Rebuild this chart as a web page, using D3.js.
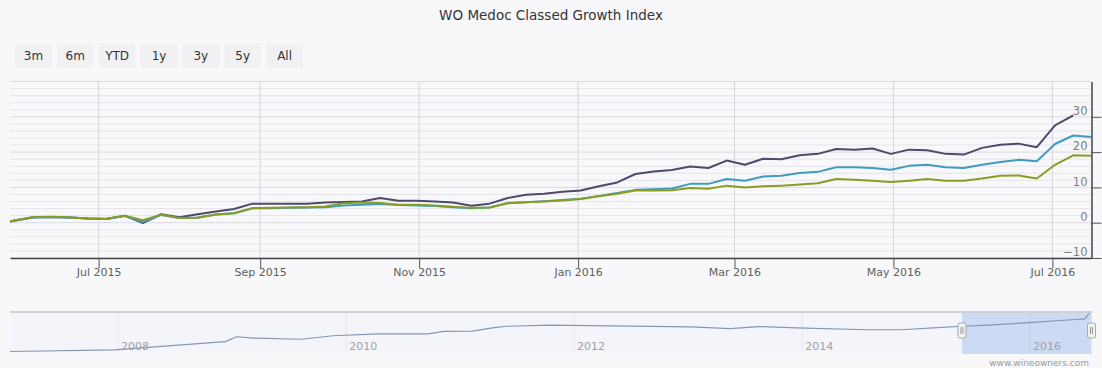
<!DOCTYPE html>
<html><head><meta charset="utf-8">
<script src="https://cdn.jsdelivr.net/npm/d3@7"></script>
<style>
html,body{margin:0;padding:0;background:#f8f8fb;}
svg{display:block;font-family:"DejaVu Sans",sans-serif;}
</style></head>
<body>
<svg id="c" width="1102" height="368"></svg>
<script>
const title = "WO Medoc Classed Growth Index";
const rangeButtons = ["3m","6m","YTD","1y","3y","5y","All"];
const dates = ["2015-05-23","2015-05-30","2015-06-06","2015-06-13","2015-06-20","2015-06-27","2015-07-04","2015-07-11","2015-07-18","2015-07-25","2015-08-01","2015-08-08","2015-08-15","2015-08-22","2015-08-29","2015-09-05","2015-09-12","2015-09-19","2015-09-26","2015-10-03","2015-10-10","2015-10-17","2015-10-24","2015-10-31","2015-11-07","2015-11-14","2015-11-21","2015-11-28","2015-12-05","2015-12-12","2015-12-19","2015-12-26","2016-01-02","2016-01-09","2016-01-16","2016-01-23","2016-01-30","2016-02-06","2016-02-13","2016-02-20","2016-02-27","2016-03-05","2016-03-12","2016-03-19","2016-03-26","2016-04-02","2016-04-09","2016-04-16","2016-04-23","2016-04-30","2016-05-07","2016-05-14","2016-05-21","2016-05-28","2016-06-04","2016-06-11","2016-06-18","2016-06-25","2016-07-02","2016-07-09","2016-07-16"];
const purpleValues = [-0.3,0.6,1.55,1.6,1.5,1.2,1.05,2.0,-0.1,2.4,1.55,2.4,3.2,3.9,5.4,5.4,5.4,5.4,5.75,5.85,6.0,7.0,6.2,6.2,6.0,5.75,4.8,5.4,7.0,7.9,8.2,8.8,9.1,10.3,11.4,13.8,14.5,14.9,15.9,15.5,17.6,16.4,18.1,18.0,19.1,19.5,20.9,20.7,21.0,19.5,20.7,20.5,19.5,19.3,21.2,22.1,22.4,21.4,27.6,30.4,null];
const blueValues = [-0.3,0.6,1.5,1.6,1.5,1.2,1.05,1.9,0.2,2.2,1.3,1.5,2.3,2.7,4.1,4.1,4.2,4.3,4.4,4.9,5.1,5.3,5.0,4.9,4.7,4.4,4.1,4.3,5.6,5.8,6.1,6.4,6.8,7.6,8.4,9.3,9.5,9.7,11.0,11.0,12.4,11.9,13.1,13.3,14.1,14.4,15.7,15.7,15.5,15.0,16.1,16.4,15.7,15.5,16.4,17.2,17.8,17.4,22.3,24.7,24.3];
const greenValues = [-0.3,0.7,1.6,1.7,1.5,1.2,1.1,2.0,0.7,2.3,1.3,1.4,2.3,2.7,4.1,4.2,4.3,4.4,4.6,5.5,5.7,5.6,5.1,5.1,4.9,4.5,4.2,4.3,5.5,5.8,6.0,6.3,6.7,7.5,8.2,9.1,9.1,9.2,9.8,9.6,10.5,10.0,10.3,10.5,10.8,11.2,12.4,12.2,11.9,11.5,11.9,12.4,11.9,11.9,12.5,13.3,13.4,12.5,16.4,19.1,19.0];
const monthTicks = ["2015-07-01","2015-09-01","2015-11-01","2016-01-01","2016-03-01","2016-05-01","2016-07-01"];
const monthLabels = ["Jul 2015","Sep 2015","Nov 2015","Jan 2016","Mar 2016","May 2016","Jul 2016"];
const yTicks = [-10,0,10,20,30];
const navDates = ["2007-01-20","2007-12-20","2008-12-10","2009-01-15","2009-03-10","2009-08-10","2009-11-20","2010-04-15","2010-09-20","2010-11-10","2011-02-10","2011-04-15","2011-05-30","2011-10-20","2012-04-20","2013-01-10","2013-05-15","2013-08-15","2013-12-15","2014-07-25","2014-11-15","2015-03-10","2015-05-28","2015-08-20","2016-01-10","2016-05-01","2016-06-25","2016-07-09"];
const navValues = [-58.4,-54.5,-35.6,-24.3,-27.5,-30.0,-21.9,-17.8,-17.8,-12.0,-11.3,-3.9,0,2.5,0.7,-1.6,-5.5,-0.7,-3.9,-8.1,-8.1,-3.2,0,2.5,9.0,14.5,17.1,30.7];
const navYearTicks = ["2008-01-01","2010-01-01","2012-01-01","2014-01-01","2016-01-01"];
const navYearLabels = ["2008","2010","2012","2014","2016"];
const credit = "www.wineowners.com";

const parse = d3.timeParse("%Y-%m-%d");
const D = dates.map(parse);
const svg = d3.select("#c");

// layout
const L = 10, R = 1091.5, T = 81.5, B = 258;
const x = d3.scaleTime().domain([parse("2015-05-28"), parse("2016-07-16")]).range([L, R]);
const y = d3.scaleLinear().domain([-10, 40]).range([B, T]);

// title
svg.append("text").attr("x", 551).attr("y", 20).attr("text-anchor", "middle")
  .style("font-size", "13.5px").style("fill", "#333").text(title);

// range buttons
const bx = d3.scaleBand().domain(rangeButtons).range([15, 303]).paddingInner(0.12);
const bg = svg.append("g");
bg.selectAll("rect").data(rangeButtons).join("rect")
  .attr("x", d => bx(d)).attr("y", 43).attr("width", bx.bandwidth()).attr("height", 25)
  .attr("fill", "#f1f1f4");
bg.selectAll("text").data(rangeButtons).join("text")
  .attr("x", d => bx(d) + bx.bandwidth()/2).attr("y", 59.5).attr("text-anchor", "middle")
  .style("font-size", "12px").style("fill", "#333").text(d => d);

// gridlines
const grid = svg.append("g");
grid.selectAll("line.minor").data(d3.range(-10, 41, 2)).join("line")
  .attr("x1", L).attr("x2", R).attr("y1", d => y(d)).attr("y2", d => y(d))
  .attr("stroke", d => d % 10 === 0 ? "#d9d9df" : "#e4e4ea").attr("stroke-width", 1);
grid.selectAll("line.v").data(monthTicks.map(parse)).join("line")
  .attr("x1", d => x(d)).attr("x2", d => x(d)).attr("y1", T).attr("y2", B)
  .attr("stroke", "#d6d6da").attr("stroke-width", 1);

// lines
svg.append("clipPath").attr("id", "clip").append("rect")
  .attr("x", L).attr("y", T - 5).attr("width", R - L).attr("height", B - T + 5);
const line = d3.line().defined(d => d[1] !== null).x(d => x(d[0])).y(d => y(d[1]));
const series = [
  {vals: purpleValues, color: "#4d4a6c"},
  {vals: blueValues, color: "#3d9cbf"},
  {vals: greenValues, color: "#8a9d22"}
];
const lg = svg.append("g").attr("clip-path", "url(#clip)");
series.forEach(s => {
  lg.append("path").datum(D.map((d, i) => [d, s.vals[i]]))
    .attr("d", line).attr("fill", "none").attr("stroke", s.color)
    .attr("stroke-width", 2).attr("stroke-linejoin", "round");
});

// x axis
const xa = svg.append("g").attr("transform", `translate(0,${B})`)
  .call(d3.axisBottom(x).tickValues(monthTicks.map(parse))
    .tickFormat((d, i) => monthLabels[i]).tickSize(10).tickPadding(0).tickSizeOuter(0));
xa.select(".domain").attr("stroke", "#444").attr("stroke-width", 1.5);
xa.selectAll(".tick line").attr("stroke", "#555");
xa.selectAll("text").style("font-size", "11px").style("fill", "#606060").style("font-family", "DejaVu Sans");

// right y axis
const ya = svg.append("g").attr("transform", `translate(${R},0)`)
  .call(d3.axisLeft(y).tickValues(yTicks).tickSize(-10).tickPadding(4).tickSizeOuter(0));
ya.select(".domain").attr("stroke", "#444").attr("stroke-width", 1.5);
ya.selectAll(".tick line").attr("stroke", "#555");
ya.selectAll("text").attr("dy", "-0.2em").style("font-size", "11.5px").style("fill", "#808080").style("font-family", "DejaVu Sans");

// navigator
const NT = 312, NB = 352;
const nx = d3.scaleTime().domain([parse("2007-01-20"), parse("2016-07-16")]).range([L, R]);
const nvD = navDates.map(parse);
const ny = d3.scaleLinear().domain(d3.extent(navValues)).range([NB - 0.5, NT + 1]);
const ng = svg.append("g");
ng.append("rect").attr("x", L).attr("y", NT).attr("width", R - L).attr("height", NB - NT).attr("fill", "#f4f5fa");
ng.selectAll("line.g").data(navYearTicks.map(parse)).join("line")
  .attr("x1", d => nx(d)).attr("x2", d => nx(d)).attr("y1", NT).attr("y2", NB)
  .attr("stroke", "#e6e6ec");
ng.append("rect").attr("x", nx(x.domain()[0])).attr("y", NT).attr("width", nx(x.domain()[1]) - nx(x.domain()[0]))
  .attr("height", NB - NT + 2).attr("fill", "rgba(130,170,230,0.35)");
ng.append("path").datum(nvD.map((d, i) => [d, navValues[i]]))
  .attr("d", d3.line().x(d => nx(d[0])).y(d => ny(d[1])))
  .attr("fill", "none").attr("stroke", "#8797b0").attr("stroke-width", 1.2).attr("stroke-linejoin", "round");
ng.append("line").attr("x1", L).attr("x2", R + 1).attr("y1", NT).attr("y2", NT)
  .attr("stroke", "#cfcfd6").attr("stroke-width", 2);
ng.selectAll("text.yr").data(navYearTicks).join("text")
  .attr("x", d => nx(parse(d)) + 3).attr("y", 350)
  .style("font-size", "11px").style("fill", "#a0a0a8").text((d, i) => navYearLabels[i]);
[x.domain()[0], x.domain()[1]].forEach(d => {
  const hx = nx(d);
  ng.append("rect").attr("x", hx - 4).attr("y", 323).attr("width", 8).attr("height", 15)
    .attr("rx", 2).attr("fill", "#f2f2f2").attr("stroke", "#aaa");
  ng.append("line").attr("x1", hx - 1).attr("x2", hx - 1).attr("y1", 327).attr("y2", 334).attr("stroke", "#999");
  ng.append("line").attr("x1", hx + 1).attr("x2", hx + 1).attr("y1", 327).attr("y2", 334).attr("stroke", "#999");
});
svg.append("text").attr("x", 1089).attr("y", 366).attr("text-anchor", "end")
  .style("font-size", "9px").style("fill", "#999").text(credit);
</script>
</body></html>
